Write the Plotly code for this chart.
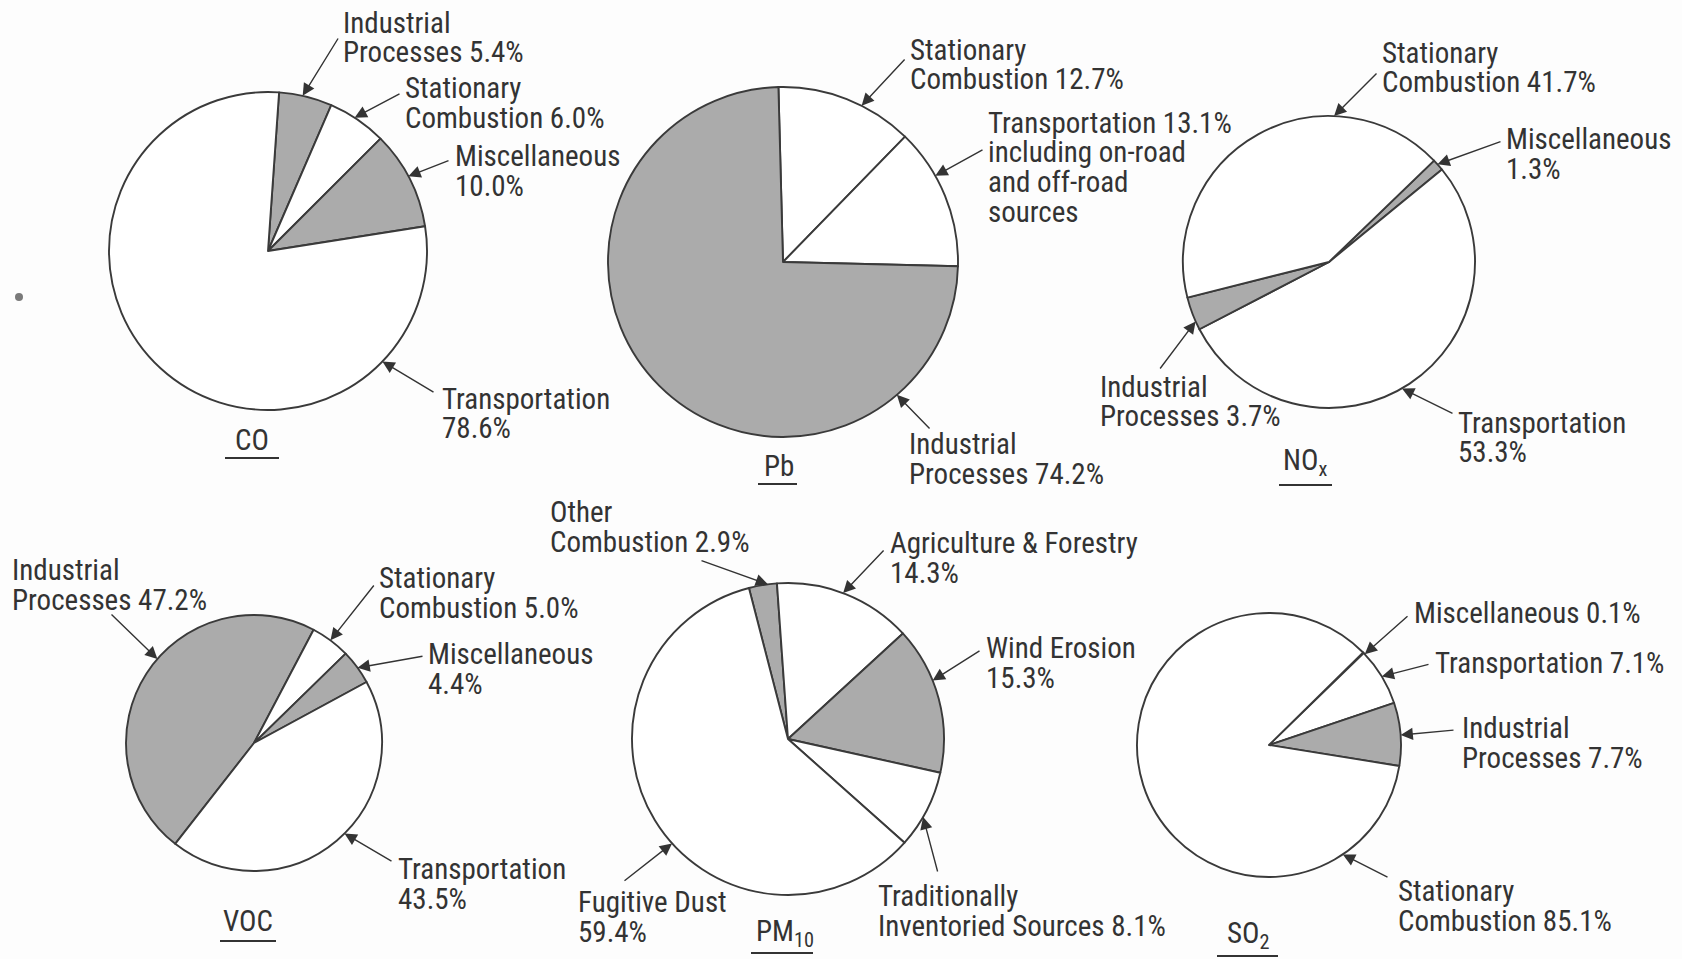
import math
import plotly.graph_objects as go

W, H = 1682, 959

# ---------------- data ----------------
CO_LABELS = ["Industrial Processes", "Stationary Combustion", "Miscellaneous", "Transportation"]
CO_VALUES = [5.4, 6.0, 10.0, 78.6]

PB_LABELS = ["Stationary Combustion", "Transportation", "Industrial Processes"]
PB_VALUES = [12.7, 13.1, 74.2]

NOX_LABELS = ["Miscellaneous", "Transportation", "Industrial Processes", "Stationary Combustion"]
NOX_VALUES = [1.3, 53.3, 3.7, 41.7]

VOC_LABELS = ["Industrial Processes", "Stationary Combustion", "Miscellaneous", "Transportation"]
VOC_VALUES = [47.2, 5.0, 4.4, 43.5]

PM10_LABELS = ["Other Combustion", "Agriculture & Forestry", "Wind Erosion",
               "Traditionally Inventoried Sources", "Fugitive Dust"]
PM10_VALUES = [2.9, 14.3, 15.3, 8.1, 59.4]

SO2_LABELS = ["Miscellaneous", "Transportation", "Industrial Processes", "Stationary Combustion"]
SO2_VALUES = [0.1, 7.1, 7.7, 85.1]

POLLUTANTS = ["CO", "Pb", "NO<sub>x</sub>", "VOC", "PM<sub>10</sub>", "SO<sub>2</sub>"]

# ---------------- style / layout ----------------
GRAY = "#ababab"
WHITE = "#ffffff"
EDGE = "#3a3a3a"
TXT = "#333333"
FONT = "Liberation Sans Narrow, Arial Narrow, Roboto Condensed, Liberation Sans, Arial"
FS = 29
LINE_H = 29.5
DX = -2  # small shift to compensate annotation padding

PIES = [
    dict(title=POLLUTANTS[0], labels=CO_LABELS, values=CO_VALUES,
         fills=[GRAY, WHITE, GRAY, WHITE], cx=268, cy=251, r=159, rot=4,
         tpos=(252, 440), uline=(225, 279, 458),
         notes=[
             (0, ["Industrial", "Processes {v}%"], 343, 23, (339, 37), 12.6),
             (1, ["Stationary", "Combustion {v}%"], 405, 88, (401, 93), 33),
             (2, ["Miscellaneous", "{v}%"], 455, 156, (450, 160), 62),
             (3, ["Transportation", "{v}%"], 442, 399, (435, 393), 134),
         ]),
    dict(title=POLLUTANTS[1], labels=PB_LABELS, values=PB_VALUES,
         fills=[WHITE, WHITE, GRAY], cx=783, cy=262, r=175, rot=-1.5,
         tpos=(779, 466), uline=(758, 797, 484),
         notes=[
             (0, ["Stationary", "Combustion {v}%"], 910, 50, (906, 58), 26.7),
             (1, ["Transportation {v}%", "including on-road", "and off-road", "sources"],
              988, 123, (984, 149), 60.5),
             (2, ["Industrial", "Processes {v}%"], 909, 444, (931, 430), 139.4),
         ]),
    dict(title=POLLUTANTS[2], labels=NOX_LABELS, values=NOX_VALUES,
         fills=[GRAY, WHITE, GRAY, WHITE], cx=1329, cy=262, r=146, rot=46,
         tpos=(1305, 462), uline=(1279, 1332, 485),
         notes=[
             (3, ["Stationary", "Combustion {v}%"], 1382, 53, (1378, 72), 2),
             (0, ["Miscellaneous", "{v}%"], 1506, 139, (1502, 141), 48),
             (2, ["Industrial", "Processes {v}%"], 1100, 387, (1159, 370), 246),
             (1, ["Transportation", "{v}%"], 1458, 423, (1454, 414), 150),
         ]),
    dict(title=POLLUTANTS[3], labels=VOC_LABELS, values=VOC_VALUES,
         fills=[GRAY, WHITE, GRAY, WHITE], cx=254, cy=743, r=128, rot=218,
         tpos=(248, 921), uline=(220, 276, 941),
         notes=[
             (0, ["Industrial", "Processes {v}%"], 12, 570, (110, 613), 311),
             (1, ["Stationary", "Combustion {v}%"], 379, 578, (375, 584), 36.7),
             (2, ["Miscellaneous", "{v}%"], 428, 654, (424, 656), 54),
             (3, ["Transportation", "{v}%"], 398, 869, (393, 862), 135),
         ]),
    dict(title=POLLUTANTS[4], labels=PM10_LABELS, values=PM10_VALUES,
         fills=[GRAY, WHITE, GRAY, WHITE, WHITE], cx=788, cy=739, r=156, rot=-14.5,
         tpos=(785, 933), uline=(751, 813, 953),
         notes=[
             (0, ["Other", "Combustion {v}%"], 550, 512, (700, 560), -7.4),
             (1, ["Agriculture & Forestry", "{v}%"], 890, 543, (885, 549), 20.7),
             (2, ["Wind Erosion", "{v}%"], 986, 648, (981, 650), 68),
             (3, ["Traditionally", "Inventoried Sources {v}%"], 878, 896, (938, 873), 120),
             (4, ["Fugitive Dust", "{v}%"], 578, 902, (623, 882), 228),
         ]),
    dict(title=POLLUTANTS[5], labels=SO2_LABELS, values=SO2_VALUES,
         fills=[GRAY, WHITE, GRAY, WHITE], cx=1269, cy=745, r=132, rot=45.5,
         tpos=(1248, 935), uline=(1217, 1278, 956),
         notes=[
             (0, ["Miscellaneous {v}%"], 1414, 613, (1409, 615), 46.5),
             (1, ["Transportation {v}%"], 1435, 663, (1430, 664), 58.7),
             (2, ["Industrial", "Processes {v}%"], 1462, 728, (1455, 730), 85.7),
             (3, ["Stationary", "Combustion {v}%"], 1398, 891, (1389, 878), 146),
         ]),
]


def px(x):
    return x / W


def py(y):
    return 1 - y / H


fig = go.Figure()
annotations = []
shapes = []

for p in PIES:
    cx, cy, r = p["cx"], p["cy"], p["r"]
    fig.add_trace(go.Pie(
        labels=p["labels"], values=p["values"], sort=False, direction="clockwise",
        rotation=p["rot"], textinfo="none", hoverinfo="label+value",
        showlegend=False,
        marker=dict(colors=p["fills"], line=dict(color=EDGE, width=1.9)),
        domain=dict(x=[px(cx - r), px(cx + r)], y=[py(cy + r), py(cy - r)]),
    ))
    # title + underline
    annotations.append(dict(x=px(p["tpos"][0]), y=py(p["tpos"][1]), xref="paper", yref="paper",
                            text=p["title"], showarrow=False, xanchor="center", yanchor="middle",
                            font=dict(family=FONT, size=FS, color=TXT)))
    x0, x1, yu = p["uline"]
    shapes.append(dict(type="line", xref="paper", yref="paper", x0=px(x0), x1=px(x1),
                       y0=py(yu), y1=py(yu), line=dict(color=TXT, width=2)))
    # labels + arrows
    for idx, lines, lx, ly, tail, ang in p["notes"]:
        v = "{:.1f}".format(p["values"][idx])
        for k, ln in enumerate(lines):
            annotations.append(dict(x=px(lx + DX), y=py(ly + k * LINE_H), xref="paper", yref="paper",
                                    text=ln.replace("{v}", v), showarrow=False,
                                    xanchor="left", yanchor="middle",
                                    font=dict(family=FONT, size=FS, color=TXT)))
        a = math.radians(ang)
        tx = cx + r * math.sin(a)
        ty = cy - r * math.cos(a)
        annotations.append(dict(x=px(tx), y=py(ty), xref="paper", yref="paper",
                                ax=tail[0] - tx, ay=tail[1] - ty, axref="pixel", ayref="pixel",
                                text="", showarrow=True, arrowhead=2, arrowsize=1.75,
                                arrowwidth=1.4, arrowcolor=TXT, standoff=0))

# stray scan dot at left
shapes.append(dict(type="circle", xref="paper", yref="paper",
                   x0=px(15), x1=px(23), y0=py(301), y1=py(293),
                   fillcolor="#7a7a7a", line=dict(width=0)))

fig.update_layout(
    width=W, height=H, margin=dict(l=0, r=0, t=0, b=0),
    paper_bgcolor="#fdfdfd", plot_bgcolor="#fdfdfd",
    annotations=annotations, shapes=shapes,
)

fig.write_html("out.html", config={"displayModeBar": False},
               post_script="document.body.style.margin='0';document.body.style.overflow='hidden';")
